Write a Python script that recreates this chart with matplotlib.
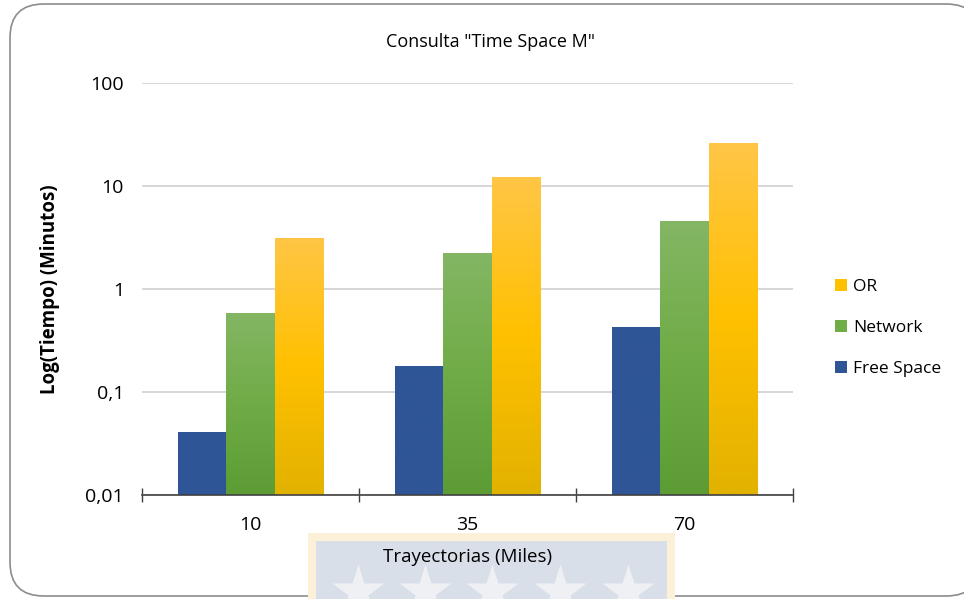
import matplotlib.pyplot as plt
import numpy as np
from matplotlib.colors import LinearSegmentedColormap
from matplotlib.patches import FancyBboxPatch, Rectangle
from matplotlib.lines import Line2D

plt.rcParams['font.family'] = ['Open Sans', 'DejaVu Sans']

categorias = ['10', '35', '70']
free_space = [0.041, 0.179, 0.43]
network = [0.585, 2.24, 4.57]
or_vals = [3.13, 12.2, 26.1]
yticks = [0.01, 0.1, 1, 10, 100]
ytick_labels = ['0,01', '0,1', '1', '10', '100']

fig = plt.figure(figsize=(9.64, 5.99), dpi=100)

# marco redondeado del grafico
marco = FancyBboxPatch((10 / 964, 3 / 599), 970 / 964, 592 / 599,
                       boxstyle='round,pad=0,rounding_size=0.035',
                       transform=fig.transFigure, fc='white', ec='#8c8c8c',
                       lw=1.2, zorder=-3, mutation_aspect=964 / 599)
fig.patches.append(marco)

# sello de fondo bajo el eje x
fig.patches.append(Rectangle((308 / 964, 0), 367 / 964, 66 / 599,
                             transform=fig.transFigure, fc='#fdf0d9',
                             ec='none', zorder=-2))
fig.patches.append(Rectangle((316 / 964, 0), 351 / 964, 58 / 599,
                             transform=fig.transFigure, fc='#d8dfe8',
                             ec='none', zorder=-2))
for sx in [358, 425, 492, 560, 628]:
    fig.lines.append(Line2D([sx / 964], [7 / 599], transform=fig.transFigure,
                            marker='*', ms=40, color='#eef0f4', mec='none',
                            zorder=-1))

ax = fig.add_axes([142 / 964, 1 - 495 / 599, 651 / 964, 412 / 599])
ax.set_facecolor('none')
ax.set_xlim(-0.5, 2.5)
ax.set_yscale('log')
ax.set_ylim(0.01, 100)

x = np.arange(len(categorias))
w = 0.222
series = [
    (free_space, -w, ['#2f5597', '#2f5597'], '#2f5597', 'Free Space'),
    (network, 0, ['#84b664', '#6fac46', '#5d9c34'], '#70ad47', 'Network'),
    (or_vals, w, ['#ffc646', '#ffc000', '#e2b200'], '#ffc000', 'OR'),
]

handles = {}
to_axes = ax.transData + ax.transAxes.inverted()
ymin = ax.get_ylim()[0]
grad = np.linspace(0, 1, 256).reshape(-1, 1)
for vals, off, cols, base, nombre in series:
    bars = ax.bar(x + off, vals, w, color=base, zorder=2, edgecolor='none')
    handles[nombre] = bars
    cmap = LinearSegmentedColormap.from_list(nombre, cols[::-1])
    for b in bars:
        bb = b.get_bbox()
        (x0, y0), (x1, y1) = to_axes.transform([(bb.x0, max(bb.y0, ymin)),
                                                (bb.x1, bb.y1)])
        im = ax.imshow(grad, cmap=cmap, aspect='auto', origin='lower',
                       extent=(x0, x1, y0, y1), transform=ax.transAxes,
                       zorder=2.5, interpolation='bilinear')
        im.set_clip_path(b)

ax.set_xlim(-0.5, 2.5)
ax.set_ylim(0.01, 100)
ax.set_yticks(yticks)
ax.set_yticklabels(ytick_labels)
ax.minorticks_off()
ax.yaxis.grid(True, color='#d0d0d0', lw=1.2, zorder=0)
ax.set_axisbelow(True)
ax.tick_params(axis='y', length=0, pad=13, labelsize=14)

ax.set_xticks(x)
ax.set_xticklabels(categorias)
ax.tick_params(axis='x', length=0, pad=15, labelsize=14)
ax.set_xticks([-0.5, 0.5, 1.5, 2.5], minor=True)
ax.tick_params(axis='x', which='minor', length=10, direction='inout',
               width=1, color='#404040')

for s in ['top', 'right', 'left']:
    ax.spines[s].set_visible(False)
ax.spines['bottom'].set_color('#404040')
ax.spines['bottom'].set_linewidth(1.2)

ax.set_xlabel('Trayectorias (Miles)', fontsize=13.5, labelpad=10)
ax.set_ylabel('Log(Tiempo) (Minutos)', fontsize=13.5, fontweight='bold',
              labelpad=18)
fig.text(491 / 964, 1 - 42 / 599, 'Consulta "Time Space M"', fontsize=13,
         ha='center', va='center')

orden = ['OR', 'Network', 'Free Space']
fig.legend([handles[n] for n in orden], orden, loc='center left',
           bbox_to_anchor=(819 / 964, 1 - 328 / 599), frameon=False,
           fontsize=12.5, handlelength=0.7, handleheight=0.7,
           handletextpad=0.35, labelspacing=1.45)

fig.savefig('out.png', dpi=100)
